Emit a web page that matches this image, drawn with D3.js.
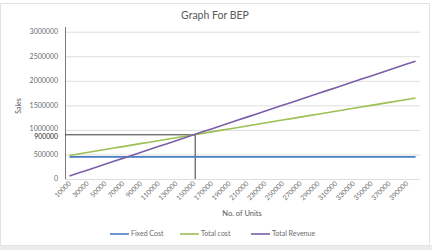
<!DOCTYPE html>
<html lang="en">
<head>
<meta charset="UTF-8">
<title>Graph For BEP</title>
<script src="https://d3js.org/d3.v7.min.js"></script>
<style>
  body { margin: 0; background: #fff; }
  svg { display: block; font-family: Lato, "Open Sans", sans-serif; }
</style>
</head>
<body>
<script>
// data
var units = [10000, 20000, 30000, 40000, 50000, 60000, 70000, 80000, 90000, 100000,
  110000, 120000, 130000, 140000, 150000, 160000, 170000, 180000, 190000, 200000,
  210000, 220000, 230000, 240000, 250000, 260000, 270000, 280000, 290000, 300000,
  310000, 320000, 330000, 340000, 350000, 360000, 370000, 380000, 390000, 400000];

var fixedCost = [450000, 450000, 450000, 450000, 450000, 450000, 450000, 450000, 450000, 450000,
  450000, 450000, 450000, 450000, 450000, 450000, 450000, 450000, 450000, 450000,
  450000, 450000, 450000, 450000, 450000, 450000, 450000, 450000, 450000, 450000,
  450000, 450000, 450000, 450000, 450000, 450000, 450000, 450000, 450000, 450000];

var totalCost = [480000, 510000, 540000, 570000, 600000, 630000, 660000, 690000, 720000, 750000,
  780000, 810000, 840000, 870000, 900000, 930000, 960000, 990000, 1020000, 1050000,
  1080000, 1110000, 1140000, 1170000, 1200000, 1230000, 1260000, 1290000, 1320000, 1350000,
  1380000, 1410000, 1440000, 1470000, 1500000, 1530000, 1560000, 1590000, 1620000, 1650000];

var totalRevenue = [60000, 120000, 180000, 240000, 300000, 360000, 420000, 480000, 540000, 600000,
  660000, 720000, 780000, 840000, 900000, 960000, 1020000, 1080000, 1140000, 1200000,
  1260000, 1320000, 1380000, 1440000, 1500000, 1560000, 1620000, 1680000, 1740000, 1800000,
  1860000, 1920000, 1980000, 2040000, 2100000, 2160000, 2220000, 2280000, 2340000, 2400000];

var yTicks = [0, 500000, 1000000, 1500000, 2000000, 2500000, 3000000];
var bepUnits = 150000;
var bepSales = 900000;

var seriesNames = ["Fixed Cost", "Total cost", "Total Revenue"];
var seriesColors = ["#4a7ec4", "#9bc053", "#7b5ea8"];

var width = 432, height = 250;

var svg = d3.select("body").append("svg")
  .attr("width", width)
  .attr("height", height);

// frame + caption strip
svg.append("rect").attr("x", 0).attr("y", 245).attr("width", width).attr("height", 5).attr("fill", "#ececec");
svg.append("rect")
  .attr("x", 0.5).attr("y", 3.5).attr("width", 429).attr("height", 242)
  .attr("fill", "#fff").attr("stroke", "#e3e3e3");

var x = d3.scaleBand().domain(units).range([65, 420]);
var y = d3.scaleLinear().domain([0, 3000000]).range([179, 31.7]);
var cx = function (u) { return x(u) + x.bandwidth() / 2; };

// gridlines
svg.append("g")
  .attr("transform", "translate(65,0)")
  .call(d3.axisLeft(y).tickValues(yTicks).tickSize(-355).tickFormat(""))
  .call(function (g) {
    g.select(".domain").remove();
    g.selectAll("line").attr("stroke", "#dedede");
  });

// y tick labels (1000000 nudged up so it clears the 900000 marker)
svg.append("g").selectAll("text")
  .data(yTicks)
  .enter().append("text")
  .attr("x", 58)
  .attr("y", function (d) { return d === 1000000 ? y(d) - 1.2 : y(d); })
  .attr("dy", "0.35em")
  .attr("text-anchor", "end")
  .attr("font-size", "7px")
  .attr("fill", "#6b6b6b")
  .text(function (d) { return d; });

svg.append("text")
  .attr("x", 58).attr("y", y(bepSales) + 1.6).attr("dy", "0.35em")
  .attr("text-anchor", "end")
  .attr("font-size", "6.8px")
  .attr("fill", "#262626")
  .text(bepSales);

// y axis line
svg.append("line")
  .attr("x1", 65.5).attr("x2", 65.5).attr("y1", 27).attr("y2", 179)
  .attr("stroke", "#7a7a7a").attr("stroke-width", 1);

// x tick labels (every other one)
svg.append("g").selectAll("text")
  .data(units.filter(function (d, i) { return i % 2 === 0; }))
  .enter().append("text")
  .attr("transform", function (d) { return "translate(" + (cx(d) + 2) + ",184) rotate(-45)"; })
  .attr("text-anchor", "end")
  .attr("font-size", "6.8px")
  .attr("fill", "#6b6b6b")
  .text(function (d) { return d; });

// break-even guide lines
svg.append("line")
  .attr("x1", 65).attr("x2", cx(bepUnits) + 1.5)
  .attr("y1", y(bepSales)).attr("y2", y(bepSales))
  .attr("stroke", "#3a3a3a").attr("stroke-width", 1);
svg.append("line")
  .attr("x1", cx(bepUnits) + 1.5).attr("x2", cx(bepUnits) + 1.5)
  .attr("y1", y(bepSales)).attr("y2", y(0))
  .attr("stroke", "#3a3a3a").attr("stroke-width", 1);

// series lines
var line = d3.line()
  .x(function (d, i) { return cx(units[i]); })
  .y(function (d) { return y(d); });

[fixedCost, totalCost, totalRevenue].forEach(function (s, k) {
  svg.append("path")
    .datum(s)
    .attr("d", line)
    .attr("fill", "none")
    .attr("stroke", seriesColors[k])
    .attr("stroke-width", 1.6);
});

// titles
svg.append("text")
  .attr("x", 215).attr("y", 19)
  .attr("text-anchor", "middle")
  .attr("font-size", "10.5px")
  .attr("fill", "#595959")
  .text("Graph For BEP");

svg.append("text")
  .attr("x", 242).attr("y", 216)
  .attr("text-anchor", "middle")
  .attr("font-size", "7.5px")
  .attr("fill", "#595959")
  .text("No. of Units");

svg.append("text")
  .attr("transform", "translate(21,106) rotate(-90)")
  .attr("text-anchor", "middle")
  .attr("font-size", "7px")
  .attr("fill", "#595959")
  .text("Sales");

// legend
var legendX = [110, 180, 251];
var legend = svg.append("g").selectAll("g")
  .data(seriesNames)
  .enter().append("g")
  .attr("transform", function (d, i) { return "translate(" + legendX[i] + ",234)"; });

legend.append("line")
  .attr("x1", 0).attr("x2", 19)
  .attr("stroke", function (d, i) { return seriesColors[i]; })
  .attr("stroke-width", 1.6);

legend.append("text")
  .attr("x", 21).attr("dy", "0.35em")
  .attr("font-size", "7px")
  .attr("fill", "#6b6b6b")
  .text(function (d) { return d; });
</script>
</body>
</html>
